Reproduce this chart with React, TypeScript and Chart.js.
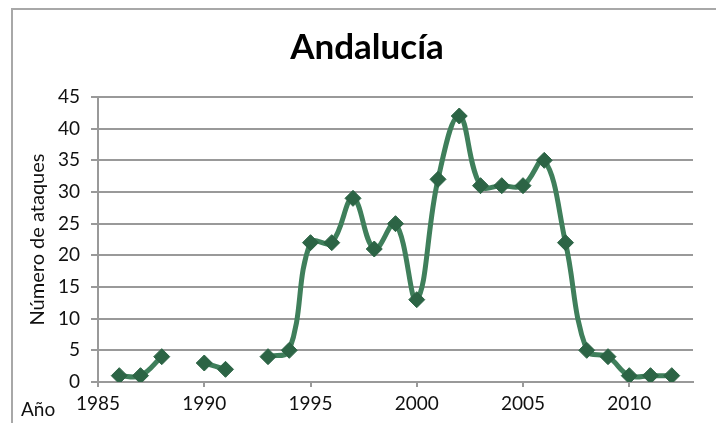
import React, { useEffect, useRef } from "react";
import { Chart, registerables } from "chart.js";

Chart.register(...registerables);

const years = [1986, 1987, 1988, 1989, 1990, 1991, 1992, 1993, 1994, 1995, 1996, 1997, 1998, 1999, 2000, 2001, 2002, 2003, 2004, 2005, 2006, 2007, 2008, 2009, 2010, 2011, 2012];
const attacks: (number | null)[] = [1, 1, 4, null, 3, 2, null, 4, 5, 22, 22, 29, 21, 25, 13, 32, 42, 31, 31, 31, 35, 22, 5, 4, 1, 1, 1];
const xTickValues = [1985, 1990, 1995, 2000, 2005, 2010];

const chartTitle = "Andalucía";
const yTitle = "Número de ataques";
const xTitle = "Año";

const FONT = "Lato, 'Open Sans', sans-serif";

export default function App() {
  const ref = useRef<HTMLCanvasElement | null>(null);

  useEffect(() => {
    if (!ref.current) return;
    const overlay = {
      id: "overlay",
      afterDraw(chart: any) {
        const ctx = chart.ctx;
        ctx.save();
        ctx.fillStyle = "#000";
        ctx.font = `bold 35px ${FONT}`;
        ctx.textAlign = "center";
        ctx.textBaseline = "middle";
        ctx.fillText(chartTitle, 367, 48);
        ctx.font = `19px ${FONT}`;
        ctx.textAlign = "left";
        ctx.fillStyle = "#111";
        ctx.fillText(xTitle, 21, 410);
        ctx.restore();
      },
    };
    const chart = new Chart(ref.current, {
      type: "line",
      data: {
        datasets: [
          {
            data: years.map((y, i) => ({ x: y, y: attacks[i] })),
            borderColor: "#3f7f5b",
            borderWidth: 5,
            backgroundColor: "#2c6445",
            pointBackgroundColor: "#2c6445",
            pointBorderColor: "#2c6445",
            pointStyle: "rectRot",
            pointRadius: 8,
            pointBorderWidth: 1,
            tension: 0.4,
            spanGaps: false,
            fill: false,
          } as any,
        ],
      },
      options: {
        animation: false,
        responsive: false,
        events: [],
        layout: { padding: { left: 12, right: 23, top: 97, bottom: 0 } },
        plugins: { legend: { display: false }, tooltip: { enabled: false }, title: { display: false } },
        scales: {
          x: {
            type: "linear",
            min: 1985,
            max: 2013,
            afterBuildTicks: (scale: any) => {
              scale.ticks = xTickValues.map((v) => ({ value: v }));
            },
            afterFit: (scale: any) => {
              scale.height = 41;
            },
            ticks: {
              font: { family: FONT, size: 19 },
              color: "#111",
              padding: 5,
              maxRotation: 0,
              autoSkip: false,
              callback: (v: any) => String(v),
            },
            grid: {
              display: true,
              drawOnChartArea: false,
              drawTicks: true,
              tickLength: 5,
              color: "#999",
              lineWidth: 2,
            },
            border: { display: true, color: "#999", width: 2 },
          },
          y: {
            min: 0,
            max: 45,
            afterFit: (scale: any) => {
              scale.width = 86;
            },
            ticks: {
              stepSize: 5,
              font: { family: FONT, size: 19 },
              color: "#111",
              padding: 11,
            },
            grid: {
              color: "#999",
              lineWidth: 2,
              tickLength: 7,
            },
            border: { display: true, color: "#999", width: 2 },
            title: {
              display: true,
              text: yTitle,
              font: { family: FONT, size: 20 },
              color: "#111",
              padding: { top: 14, bottom: 0 },
            },
          },
        },
      },
      plugins: [overlay],
    });
    return () => chart.destroy();
  }, []);

  return (
    <div style={{ position: "fixed", left: 0, top: 0, width: 716, height: 423, overflow: "hidden", background: "#fff" }}>
      <div
        style={{
          position: "absolute",
          left: 11,
          top: 8,
          width: 800,
          height: 500,
          borderLeft: "2px solid #a8a8a8",
          borderTop: "2px solid #a8a8a8",
        }}
      />
      <canvas ref={ref} width={716} height={423} style={{ position: "absolute", left: 0, top: 0 }} />
    </div>
  );
}
